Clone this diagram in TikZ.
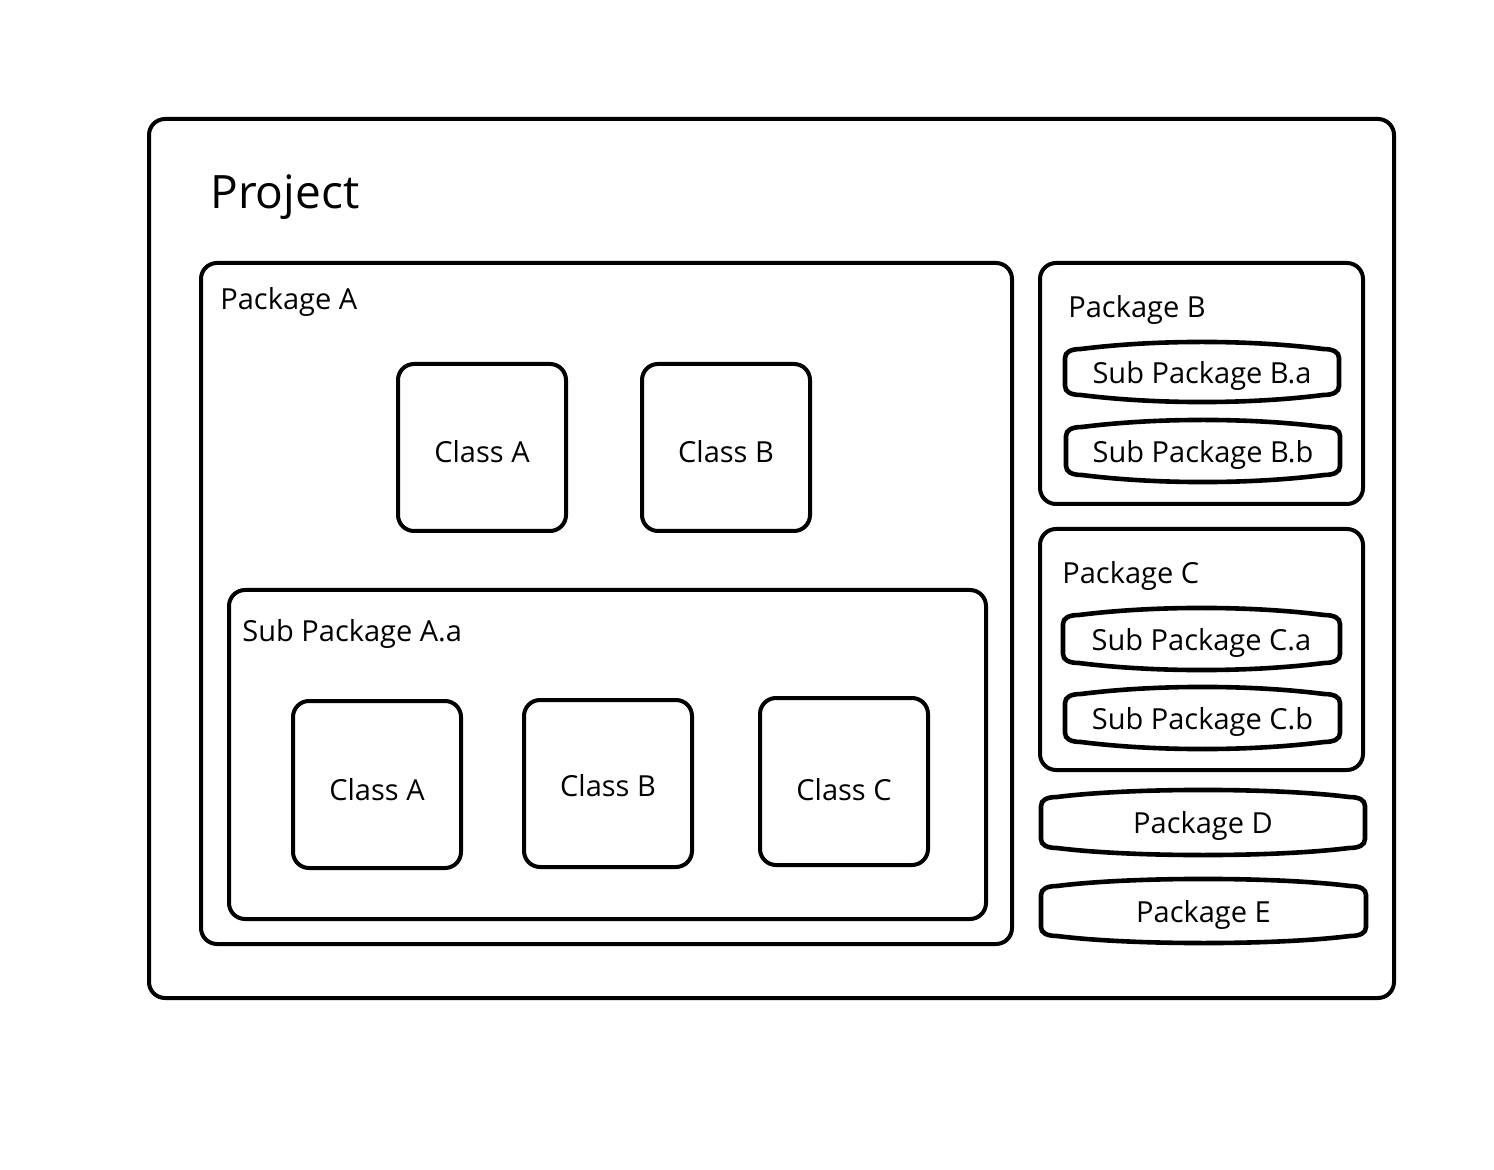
\documentclass[tikz,border=0pt]{standalone}
\usepackage{fontspec}
\setmainfont{Open Sans}
\usetikzlibrary{calc}

\tikzset{
  box/.style={draw, line width=2pt, rounded corners=8pt, inner sep=0pt, outer sep=0pt},
  cls/.style={box, lbl, minimum width=84pt, minimum height=83.5pt, text height=15pt},
  pill/.style={draw=none, inner sep=0pt, outer sep=0pt},
  lbl/.style={inner sep=0pt, text depth=0pt, font=\fontsize{14.5}{17}\selectfont},
  title/.style={inner sep=0pt, text depth=0pt, font=\fontsize{23}{27}\selectfont}
}

% outline with bowed top and bottom edges, drawn round a named node
\newcommand{\pillline}[1]{%
  \draw[line width=2.3pt] let \p1=(#1.south west), \p2=(#1.north east) in
    (\x1,\y1+8pt) -- (\x1,\y2-8pt)
    .. controls (\x1,\y2-5pt) and (\x1+3pt,\y2-3.5pt) .. (\x1+8pt,\y2-3.5pt)
    .. controls (\x1+45pt,\y2+1.2pt) and (\x2-45pt,\y2+1.2pt) .. (\x2-8pt,\y2-3.5pt)
    .. controls (\x2-3pt,\y2-3.5pt) and (\x2,\y2-5pt) .. (\x2,\y2-8pt)
    -- (\x2,\y1+8pt)
    .. controls (\x2,\y1+5pt) and (\x2-3pt,\y1+3.5pt) .. (\x2-8pt,\y1+3.5pt)
    .. controls (\x2-45pt,\y1-1.2pt) and (\x1+45pt,\y1-1.2pt) .. (\x1+8pt,\y1+3.5pt)
    .. controls (\x1+3pt,\y1+3.5pt) and (\x1,\y1+5pt) .. (\x1,\y1+8pt) -- cycle;}

\begin{document}
\begin{tikzpicture}[x=0.5pt, y=-0.5pt]
  \useasboundingbox (0,0) rectangle (1494,1170);

  % Project
  \node[box, minimum width=622.5pt, minimum height=439.5pt] (proj) at (771.5,558.5) {};
  \node[title, anchor=west] (projlbl) at (210,192) {Project};

  % Package A
  \node[box, minimum width=405.5pt, minimum height=340.5pt] (pkgA) at (606.5,603.5) {};
  \node[lbl, anchor=west] (pkgAlbl) at (220,298) {Package A};
  \node[cls] (clsA) at (482,447.5) {Class A};
  \node[cls] (clsB) at (726,447.5) {Class B};

  % Sub Package A.a
  \node[box, minimum width=378.5pt, minimum height=164.5pt] (subAa) at (607.5,754.5) {};
  \node[lbl, anchor=west] (subAalbl) at (242,630) {Sub Package A.a};
  \node[cls, text height=16pt] (subclsA) at (377,784.5) {Class A};
  \node[cls, text height=13pt] (subclsB) at (608,783.5) {Class B};
  \node[cls, text height=19pt] (subclsC) at (844,781.5) {Class C};

  % Package B
  \node[box, minimum width=161.5pt, minimum height=120.5pt] (pkgB) at (1201.5,383.5) {};
  \node[lbl, anchor=west] (pkgBlbl) at (1068,306) {Package B};
  \node[pill, lbl, minimum width=137pt, minimum height=30pt] (subBa) at (1202,372) {Sub Package B.a};
  \node[pill, lbl, minimum width=137pt, minimum height=31pt] (subBb) at (1203,451) {Sub Package B.b};

  % Package C
  \node[box, minimum width=161.5pt, minimum height=120.5pt] (pkgC) at (1201.5,649.5) {};
  \node[lbl, anchor=west] (pkgClbl) at (1062,572) {Package C};
  \node[pill, lbl, minimum width=138.5pt, minimum height=31pt] (subCa) at (1201.5,639) {Sub Package C.a};
  \node[pill, lbl, minimum width=137.5pt, minimum height=31pt] (subCb) at (1202.5,718) {Sub Package C.b};

  % Package D and E
  \node[pill, lbl, minimum width=162pt, minimum height=32.5pt] (pkgD) at (1203,822.5) {Package D};
  \node[pill, lbl, minimum width=162.5pt, minimum height=32pt] (pkgE) at (1203.5,911) {Package E};

  % Outlines
  \pillline{subBa}
  \pillline{subBb}
  \pillline{subCa}
  \pillline{subCb}
  \pillline{pkgD}
  \pillline{pkgE}
\end{tikzpicture}
\end{document}
